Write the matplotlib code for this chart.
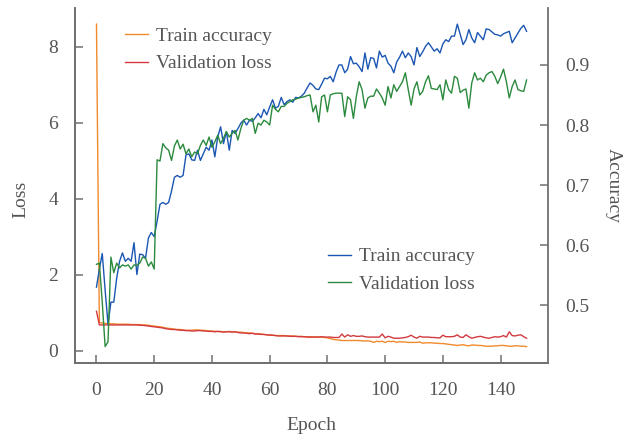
import matplotlib
matplotlib.use("Agg")
import matplotlib.pyplot as plt

plt.rcParams['font.family'] = ['Liberation Serif', 'DejaVu Serif']

TEXT_COLOR = '#555555'
SPINE_COLOR = '#707070'

# Loss curves (left axis).
train_loss = [
    8.60, 0.75, 0.73, 0.72, 0.72, 0.71, 0.71, 0.70, 0.70, 0.70,
    0.70, 0.70, 0.69, 0.69, 0.69, 0.69, 0.68, 0.68, 0.67, 0.66,
    0.65, 0.64, 0.63, 0.62, 0.60, 0.59, 0.58, 0.57, 0.56, 0.56,
    0.55, 0.54, 0.54, 0.54, 0.55, 0.55, 0.54, 0.54, 0.53, 0.52,
    0.52, 0.51, 0.51, 0.51, 0.50, 0.50, 0.51, 0.50, 0.50, 0.49,
    0.49, 0.48, 0.47, 0.47, 0.46, 0.45, 0.45, 0.44, 0.43, 0.42,
    0.42, 0.41, 0.40, 0.40, 0.40, 0.40, 0.39, 0.39, 0.39, 0.38,
    0.38, 0.38, 0.37, 0.37, 0.37, 0.37, 0.36, 0.36, 0.36, 0.35,
    0.34, 0.32, 0.30, 0.29, 0.28, 0.27, 0.27, 0.27, 0.27, 0.27,
    0.27, 0.27, 0.26, 0.26, 0.26, 0.25, 0.22, 0.25, 0.24, 0.25,
    0.22, 0.25, 0.24, 0.25, 0.22, 0.24, 0.23, 0.23, 0.22, 0.22,
    0.22, 0.22, 0.23, 0.20, 0.21, 0.21, 0.21, 0.20, 0.20, 0.19,
    0.19, 0.18, 0.17, 0.16, 0.15, 0.14, 0.15, 0.16, 0.14, 0.13,
    0.15, 0.15, 0.14, 0.14, 0.13, 0.12, 0.12, 0.12, 0.13, 0.13,
    0.14, 0.14, 0.13, 0.12, 0.12, 0.13, 0.13, 0.12, 0.12, 0.11,
]
val_loss = [
    1.04, 0.68, 0.68, 0.68, 0.68, 0.68, 0.68, 0.68, 0.68, 0.68,
    0.68, 0.68, 0.68, 0.68, 0.68, 0.67, 0.67, 0.66, 0.65, 0.64,
    0.63, 0.62, 0.61, 0.60, 0.58, 0.57, 0.56, 0.56, 0.55, 0.54,
    0.54, 0.53, 0.53, 0.52, 0.52, 0.53, 0.53, 0.52, 0.52, 0.51,
    0.51, 0.50, 0.51, 0.50, 0.49, 0.50, 0.50, 0.49, 0.50, 0.48,
    0.47, 0.47, 0.46, 0.45, 0.46, 0.44, 0.44, 0.43, 0.43, 0.42,
    0.41, 0.41, 0.40, 0.39, 0.39, 0.39, 0.39, 0.38, 0.38, 0.38,
    0.37, 0.37, 0.37, 0.36, 0.36, 0.36, 0.36, 0.36, 0.37, 0.36,
    0.36, 0.36, 0.35, 0.35, 0.35, 0.44, 0.36, 0.42, 0.38, 0.40,
    0.38, 0.38, 0.39, 0.37, 0.36, 0.36, 0.36, 0.36, 0.36, 0.44,
    0.34, 0.38, 0.36, 0.33, 0.33, 0.33, 0.34, 0.35, 0.37, 0.41,
    0.36, 0.33, 0.38, 0.36, 0.36, 0.36, 0.35, 0.35, 0.34, 0.34,
    0.41, 0.37, 0.37, 0.37, 0.38, 0.42, 0.36, 0.35, 0.42, 0.37,
    0.33, 0.35, 0.37, 0.38, 0.36, 0.34, 0.33, 0.35, 0.37, 0.36,
    0.37, 0.40, 0.36, 0.50, 0.40, 0.39, 0.41, 0.42, 0.37, 0.33,
]

# Accuracy curves (right axis).
train_acc = [
    0.530, 0.560, 0.586, 0.525, 0.468, 0.505, 0.505, 0.545, 0.573, 0.587,
    0.573, 0.578, 0.573, 0.604, 0.551, 0.585, 0.584, 0.578, 0.612, 0.621,
    0.614, 0.640, 0.668, 0.671, 0.668, 0.671, 0.690, 0.713, 0.716, 0.713,
    0.716, 0.750, 0.752, 0.742, 0.741, 0.758, 0.741, 0.752, 0.763, 0.758,
    0.775, 0.747, 0.780, 0.797, 0.769, 0.789, 0.758, 0.791, 0.786, 0.794,
    0.803, 0.808, 0.800, 0.808, 0.806, 0.812, 0.819, 0.812, 0.826, 0.817,
    0.830, 0.842, 0.828, 0.831, 0.846, 0.834, 0.839, 0.842, 0.838, 0.846,
    0.845, 0.848, 0.853, 0.862, 0.870, 0.866, 0.860, 0.859, 0.868, 0.878,
    0.877, 0.881, 0.872, 0.888, 0.900, 0.900, 0.887, 0.893, 0.914, 0.902,
    0.903, 0.897, 0.889, 0.920, 0.893, 0.912, 0.911, 0.895, 0.923, 0.913,
    0.916, 0.903, 0.898, 0.887, 0.905, 0.913, 0.923, 0.912, 0.920, 0.914,
    0.900, 0.929, 0.914, 0.922, 0.931, 0.937, 0.930, 0.923, 0.927, 0.920,
    0.935, 0.942, 0.939, 0.948, 0.948, 0.968, 0.951, 0.934, 0.942, 0.959,
    0.945, 0.937, 0.954, 0.948, 0.942, 0.960, 0.959, 0.955, 0.951, 0.950,
    0.948, 0.952, 0.954, 0.956, 0.937, 0.945, 0.953, 0.961, 0.966, 0.956,
]
val_acc = [
    0.568, 0.570, 0.505, 0.431, 0.439, 0.580, 0.554, 0.570, 0.562, 0.567,
    0.565, 0.567, 0.560, 0.567, 0.566, 0.570, 0.580, 0.578, 0.565, 0.572,
    0.560, 0.742, 0.740, 0.769, 0.762, 0.758, 0.741, 0.765, 0.775, 0.760,
    0.768, 0.752, 0.760, 0.747, 0.755, 0.752, 0.766, 0.775, 0.766, 0.780,
    0.763, 0.772, 0.783, 0.769, 0.778, 0.789, 0.780, 0.786, 0.791, 0.775,
    0.794, 0.808, 0.811, 0.808, 0.811, 0.786, 0.803, 0.800, 0.808, 0.805,
    0.800, 0.833, 0.826, 0.822, 0.831, 0.831, 0.836, 0.839, 0.842, 0.843,
    0.845, 0.846, 0.847, 0.849, 0.850, 0.822, 0.833, 0.805, 0.847, 0.850,
    0.822, 0.850, 0.852, 0.853, 0.853, 0.853, 0.814, 0.847, 0.842, 0.811,
    0.847, 0.872, 0.859, 0.828, 0.845, 0.848, 0.848, 0.860, 0.853, 0.845,
    0.833, 0.864, 0.845, 0.867, 0.856, 0.864, 0.872, 0.887, 0.859, 0.833,
    0.860, 0.872, 0.850, 0.856, 0.872, 0.882, 0.861, 0.860, 0.859, 0.867,
    0.842, 0.875, 0.859, 0.853, 0.881, 0.878, 0.854, 0.858, 0.860, 0.828,
    0.870, 0.887, 0.875, 0.878, 0.872, 0.883, 0.887, 0.889, 0.881, 0.869,
    0.880, 0.893, 0.872, 0.845, 0.864, 0.875, 0.859, 0.857, 0.856, 0.875,
]

epochs = list(range(len(train_loss)))

x_ticks = [0, 20, 40, 60, 80, 100, 120, 140]
loss_ticks = [0, 2, 4, 6, 8]
acc_ticks = [0.5, 0.6, 0.7, 0.8, 0.9]
legend_labels = ['Train accuracy', 'Validation loss']


def style_axis(ax) -> None:
    """Grey spines, inward ticks and grey tick labels."""
    for side in ['left', 'right', 'bottom']:
        ax.spines[side].set_color(SPINE_COLOR)
        ax.spines[side].set_linewidth(1.3)
    ax.spines['top'].set_visible(False)
    ax.tick_params(direction='in', length=6, width=1.1, color=SPINE_COLOR,
                   labelcolor=TEXT_COLOR, labelsize=14, pad=12)
    ax.tick_params(axis='x', pad=14)


def main() -> None:
    fig = plt.figure(figsize=(6.3, 4.42), dpi=100)
    ax1 = fig.add_axes([0.119, 0.1794, 0.751, 0.8025])
    ax2 = ax1.twinx()

    l1, = ax1.plot(epochs, train_loss, color='#f08a2c', lw=1.0)
    l2, = ax1.plot(epochs, val_loss, color='#d33a3f', lw=1.0)
    l3, = ax2.plot(epochs, train_acc, color='#1b56b3', lw=1.0)
    l4, = ax2.plot(epochs, val_acc, color='#2b8a3e', lw=1.0)

    style_axis(ax1)
    style_axis(ax2)
    ax1.spines['right'].set_visible(False)

    ax1.set_xticks(x_ticks)
    ax1.set_yticks(loss_ticks)
    ax2.set_yticks(acc_ticks)

    ax1.set_xlabel('Epoch', fontsize=14, color=TEXT_COLOR)
    ax1.xaxis.label.set_va('center')
    ax1.xaxis.set_label_coords(0.5, -0.176)
    ax1.set_ylabel('Loss', fontsize=14, color=TEXT_COLOR)
    ax1.yaxis.label.set_va('center')
    ax1.yaxis.set_label_coords(-0.114, 0.461)
    ax2.set_ylabel('Accuracy', fontsize=14, color=TEXT_COLOR, rotation=270)
    ax2.yaxis.label.set_va('center')
    ax2.yaxis.set_label_coords(1.137, 0.5)

    # Two legends, both drawn on the top axes.
    legend_kw = dict(frameon=False, fontsize=14, handlelength=1.2,
                     handletextpad=0.4, labelspacing=0.5, borderpad=0,
                     borderaxespad=0, loc='upper left', labelcolor=TEXT_COLOR)
    loss_legend = ax2.legend([l1, l2], legend_labels,
                             bbox_to_anchor=(0.106, 0.945), **legend_kw)
    ax2.add_artist(loss_legend)
    ax2.legend([l3, l4], legend_labels,
               bbox_to_anchor=(0.535, 0.324), **legend_kw)

    plt.savefig('out.png', dpi=100)


if __name__ == '__main__':
    main()
